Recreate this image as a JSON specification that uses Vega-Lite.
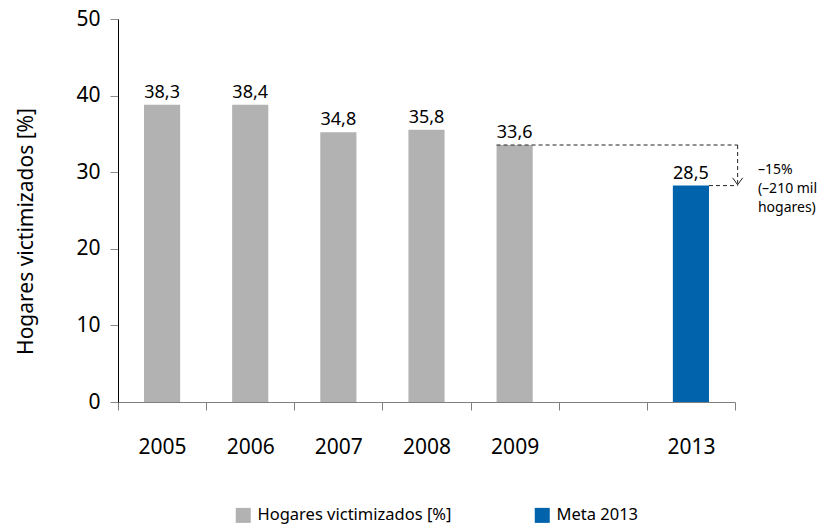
{
  "$schema": "https://vega.github.io/schema/vega-lite/v6.json",
  "width": 617,
  "height": 383,
  "autosize": {"type": "none"},
  "padding": {"left": 118, "top": 19, "right": 85, "bottom": 125},
  "background": "white",
  "config": {
    "view": {"stroke": null},
    "font": "Noto Sans",
    "axis": {"labelFont": "Noto Sans", "titleFont": "Noto Sans", "grid": false}
  },
  "layer": [
    {
      "data": {"values": [
        {"year": "2005", "value": 38.8, "label": "38,3", "serie": "Hogares victimizados [%]"},
        {"year": "2006", "value": 38.8, "label": "38,4", "serie": "Hogares victimizados [%]"},
        {"year": "2007", "value": 35.2, "label": "34,8", "serie": "Hogares victimizados [%]"},
        {"year": "2008", "value": 35.55, "label": "35,8", "serie": "Hogares victimizados [%]"},
        {"year": "2009", "value": 33.55, "label": "33,6", "serie": "Hogares victimizados [%]"},
        {"year": "2013", "value": 28.25, "label": "28,5", "serie": "Meta 2013"}
      ]},
      "layer": [
        {
          "mark": {"type": "bar", "width": {"band": 0.41}},
          "encoding": {
            "x": {
              "field": "year", "type": "nominal",
              "scale": {"domain": ["2005", "2006", "2007", "2008", "2009", "gap", "2013"], "paddingInner": 0, "paddingOuter": 0},
              "axis": {
                "title": null, "labelAngle": 0, "tickBand": "extent",
                "labelExpr": "datum.value == 'gap' ? '' : datum.value",
                "labelFontSize": 21, "labelColor": "#000000", "labelPadding": 26,
                "tickSize": 8, "tickColor": "#7f7f7f", "domainColor": "#7f7f7f", "domainWidth": 1
              }
            },
            "y": {
              "field": "value", "type": "quantitative",
              "scale": {"domain": [0, 50], "nice": false},
              "axis": {
                "title": "Hogares victimizados [%]", "values": [0, 10, 20, 30, 40, 50],
                "titleFontSize": 21, "titleFontWeight": "normal", "titleColor": "#000000",
                "titleX": -82, "titleY": 212, "titleAngle": -90, "titleBaseline": "bottom", "titleAlign": "center",
                "labelFontSize": 21, "labelColor": "#000000", "labelPadding": 10,
                "tickSize": 8, "tickColor": "#8c8c8c", "domainColor": "#000000", "domainWidth": 1
              }
            },
            "color": {
              "field": "serie", "type": "nominal",
              "scale": {"domain": ["Hogares victimizados [%]", "Meta 2013"], "range": ["#b2b2b2", "#0063ab"]},
              "legend": {
                "title": null, "orient": "none", "legendX": 117, "legendY": 488,
                "direction": "horizontal", "columnPadding": 82, "padding": 0,
                "symbolType": "square", "symbolSize": 225, "symbolStrokeWidth": 0,
                "labelFontSize": 16.5, "labelFont": "Noto Sans", "labelColor": "#000000", "labelOffset": 6, "labelLimit": 400
              }
            }
          }
        },
        {
          "mark": {"type": "text", "fontSize": 18, "baseline": "alphabetic", "dy": -7, "color": "#000000"},
          "encoding": {
            "x": {"field": "year", "type": "nominal"},
            "y": {"field": "value", "type": "quantitative"},
            "text": {"field": "label"}
          }
        }
      ]
    },
    {
      "data": {"values": [{"from": "2009", "to": "2013", "level": 33.55}]},
      "mark": {"type": "rule", "strokeDash": [4, 3], "color": "#222222", "strokeWidth": 1},
      "encoding": {
        "x": {"field": "from", "type": "nominal", "bandPosition": 0.295},
        "x2": {"field": "to", "bandPosition": 1.03},
        "y": {"field": "level", "type": "quantitative"}
      }
    },
    {
      "data": {"values": [{"year": "2013", "top": 33.55, "bottom": 28.5}]},
      "mark": {"type": "rule", "strokeDash": [4, 3], "color": "#222222", "strokeWidth": 1},
      "encoding": {
        "x": {"field": "year", "type": "nominal", "bandPosition": 1.03},
        "y": {"field": "top", "type": "quantitative"},
        "y2": {"field": "bottom"}
      }
    },
    {
      "data": {"values": [{"year": "2013", "level": 28.25}]},
      "mark": {"type": "rule", "strokeDash": [4, 3], "color": "#222222", "strokeWidth": 1},
      "encoding": {
        "x": {"field": "year", "type": "nominal", "bandPosition": 0.705},
        "x2": {"field": "year", "bandPosition": 1.03},
        "y": {"field": "level", "type": "quantitative"}
      }
    },
    {
      "data": {"values": [{"year": "2013", "tip": 28.35}]},
      "mark": {"type": "point", "shape": "M-1,-1.4L0,0L1,-1.4", "size": 100, "filled": false, "stroke": "#222222", "strokeWidth": 1, "opacity": 1},
      "encoding": {
        "x": {"field": "year", "type": "nominal", "bandPosition": 1.03},
        "y": {"field": "tip", "type": "quantitative"}
      }
    },
    {
      "data": {"values": [{"year": "2013", "level": 30.3, "note": "–15%\n(–210 mil\nhogares)"}]},
      "mark": {"type": "text", "align": "left", "baseline": "middle", "fontSize": 14, "lineBreak": "\n", "lineHeight": 19, "color": "#000000"},
      "encoding": {
        "x": {"field": "year", "type": "nominal", "bandPosition": 1.26},
        "y": {"field": "level", "type": "quantitative"},
        "text": {"field": "note"}
      }
    }
  ]
}
